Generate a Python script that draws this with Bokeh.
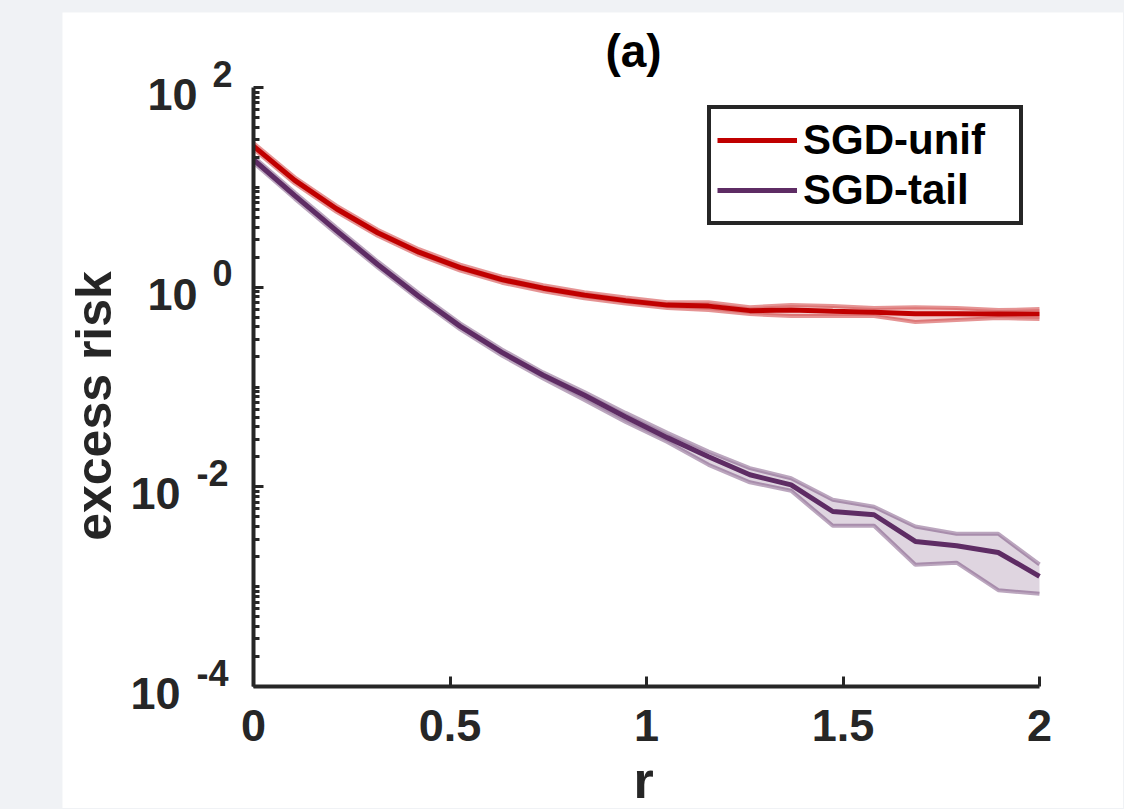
from bokeh.plotting import figure
from bokeh.models import (Label, Legend, LegendItem, FixedTicker, CustomJSTickFormatter,
                          LinearAxis, LogAxis)
from bokeh.embed import file_html
from bokeh.resources import INLINE
import math

# ---- data ----
r = [0.0, 0.105, 0.211, 0.316, 0.421, 0.526, 0.632, 0.737, 0.842, 0.947,
     1.053, 1.158, 1.263, 1.368, 1.474, 1.579, 1.684, 1.789, 1.895, 2.0]

unif_mean = [25.9, 11.75, 6.10, 3.51, 2.24, 1.567, 1.189, 0.977, 0.832, 0.733,
             0.661, 0.646, 0.582, 0.589, 0.575, 0.562, 0.543, 0.543, 0.537, 0.537]
unif_hi = [27.7, 12.6, 6.54, 3.76, 2.40, 1.68, 1.275, 1.047, 0.892, 0.786,
           0.708, 0.708, 0.631, 0.661, 0.646, 0.617, 0.631, 0.617, 0.589, 0.603]
unif_lo = [24.2, 10.96, 5.69, 3.27, 2.09, 1.462, 1.109, 0.911, 0.776, 0.684,
           0.617, 0.589, 0.537, 0.513, 0.513, 0.513, 0.447, 0.468, 0.490, 0.479]

tail_mean = [18.9, 8.26, 3.69, 1.687, 0.807, 0.405, 0.222, 0.131, 0.0826, 0.0501,
             0.0311, 0.0200, 0.0132, 0.01047, 0.00566, 0.00525, 0.00284, 0.00257, 0.00220, 0.00127]
tail_hi = [20.3, 8.86, 3.96, 1.81, 0.865, 0.434, 0.238, 0.140, 0.0891, 0.0550,
           0.0347, 0.0225, 0.0154, 0.0122, 0.00741, 0.00631, 0.00401, 0.00339, 0.00339, 0.00167]
tail_lo = [17.7, 7.71, 3.44, 1.574, 0.753, 0.378, 0.207, 0.122, 0.0741, 0.0447,
           0.0282, 0.0166, 0.0111, 0.00912, 0.00407, 0.00407, 0.00166, 0.00174, 0.000923, 0.000847]

series_names = ["SGD-unif", "SGD-tail"]
x_ticks = [0, 0.5, 1, 1.5, 2]
x_tick_labels = ["0", "0.5", "1", "1.5", "2"]
y_exponents = [2, 0, -2, -4]
y_exp_labels = ["2", "0", "-2", "-4"]
x_lim = (0, 2)
y_lim = (1e-4, 1e2)

RED = "#c00000"
PURPLE = "#5e2c64"
AXIS_C = "#262626"
FONT = "Liberation Sans"

# ---- layout (pixels inside the canvas) ----
W, H = 1061, 796
AX_L, AX_R = 191, 977          # x = 0 and x = 2
AX_T, AX_B = 75, 674           # y = 1e2 and y = 1e-4
px_per_x = (AX_R - AX_L) / (x_lim[1] - x_lim[0])
px_per_dec = (AX_B - AX_T) / (math.log10(y_lim[1]) - math.log10(y_lim[0]))
x_range = (x_lim[0] - AX_L / px_per_x, x_lim[1] + (W - AX_R) / px_per_x)
y_range = (10 ** (math.log10(y_lim[0]) - (H - AX_B) / px_per_dec),
           10 ** (math.log10(y_lim[1]) + AX_T / px_per_dec))

p = figure(width=W, height=H, y_axis_type="log",
           x_axis_location=None, y_axis_location=None,
           x_range=x_range, y_range=y_range,
           output_backend="svg", toolbar_location=None,
           min_border_left=0, min_border_right=0,
           min_border_top=0, min_border_bottom=0)
p.margin = (12, 0, 0, 62)
p.background_fill_color = "white"
p.border_fill_color = "white"
p.outline_line_color = None
for g in p.grid:
    g.visible = False

# bands
for lo, hi, c, ea in [(unif_lo, unif_hi, RED, 0.42), (tail_lo, tail_hi, PURPLE, 0.42)]:
    p.varea(x=r, y1=lo, y2=hi, fill_color=c, fill_alpha=0.2)
    p.line(r, lo, line_color=c, line_alpha=ea, line_width=4)
    p.line(r, hi, line_color=c, line_alpha=ea, line_width=4)

l1 = p.line(r, unif_mean, line_color=RED, line_width=5)
l2 = p.line(r, tail_mean, line_color=PURPLE, line_width=5)

# x axis
xa = LinearAxis(fixed_location=y_lim[0], bounds=x_lim)
xa.ticker = FixedTicker(ticks=x_ticks, minor_ticks=[])
xa.major_label_overrides = {t: s for t, s in zip(x_ticks, x_tick_labels)}
xa.major_label_text_font = FONT
xa.major_label_text_font_style = "bold"
xa.major_label_text_font_size = "45px"
xa.major_label_text_color = AXIS_C
xa.major_label_standoff = 23
xa.major_tick_in = 10
xa.major_tick_out = 0
xa.minor_tick_in = 0
xa.minor_tick_out = 0
xa.axis_line_width = 4
xa.axis_line_color = AXIS_C
xa.major_tick_line_width = 3
xa.major_tick_line_color = AXIS_C
p.add_layout(xa, "below")

# y axis
minor = []
for d in range(-4, 2):
    for m in range(1, 10):
        if not (m == 1 and d % 2 == 0):
            minor.append(m * 10.0 ** d)
ya = LogAxis(fixed_location=x_lim[0], bounds=y_lim)
ya.ticker = FixedTicker(ticks=[10.0 ** e for e in y_exponents], minor_ticks=minor)
ya.formatter = CustomJSTickFormatter(code="return ''")
ya.major_tick_in = 10
ya.major_tick_out = 0
ya.minor_tick_in = 6
ya.minor_tick_out = 0
ya.axis_line_width = 4
ya.axis_line_color = AXIS_C
ya.major_tick_line_width = 3
ya.minor_tick_line_width = 3
ya.major_tick_line_color = AXIS_C
ya.minor_tick_line_color = AXIS_C
p.add_layout(ya, "left")

BASE_CORR = 0.33  # baseline correction, in font sizes


def add_label(x, y, xo, yo, text, fs, color=AXIS_C, align="center", angle=0.0):
    corr = BASE_CORR * fs
    if angle:
        xo = xo - corr
    else:
        yo = yo + corr
    p.add_layout(Label(x=x, y=y, x_offset=xo, y_offset=yo, text=text, angle=angle,
                       text_align=align, text_baseline="alphabetic",
                       text_font=FONT, text_font_style="bold",
                       text_font_size=f"{fs}px", text_color=color))


EXP_FS, TEN_FS = 36, 45
for e, s in zip(y_exponents, y_exp_labels):
    exp_right = -21 if len(s) == 1 else -25
    expw = EXP_FS * (0.556 if len(s) == 1 else 0.889)
    ten_right = exp_right - expw - (15 if len(s) == 1 else 16)
    add_label(x_lim[0], 10.0 ** e, exp_right, 2, s, EXP_FS, align="right")
    add_label(x_lim[0], 10.0 ** e, ten_right, -22, "10", TEN_FS, align="right")

# axis labels and title
add_label(1, y_lim[0], -3, -111, "r", 52)
add_label(x_lim[0], 0.1, -143, -19, "excess risk", 50, angle=math.pi / 2)
add_label(1, y_lim[1], -13, 21, "(a)", 46, color="black")

legend = Legend(items=[LegendItem(label=series_names[0], renderers=[l1]),
                       LegendItem(label=series_names[1], renderers=[l2])],
                location=(645, 583))
legend.label_text_font = FONT
legend.label_text_font_style = "bold"
legend.label_text_font_size = "42px"
legend.label_text_color = "black"
legend.glyph_width = 80
legend.glyph_height = 50
legend.label_height = 50
legend.label_width = 210
legend.label_standoff = 6
legend.padding = 6
legend.spacing = 0
legend.margin = 0
legend.border_line_color = AXIS_C
legend.border_line_alpha = 1.0
legend.border_line_width = 4
legend.background_fill_color = "white"
legend.background_fill_alpha = 1
p.add_layout(legend)

html = file_html(p, INLINE)
html = html.replace("</head>",
                    "<style>html, body { background-color: #f0f2f5 !important; }</style></head>", 1)
open("out.html", "w").write(html)
